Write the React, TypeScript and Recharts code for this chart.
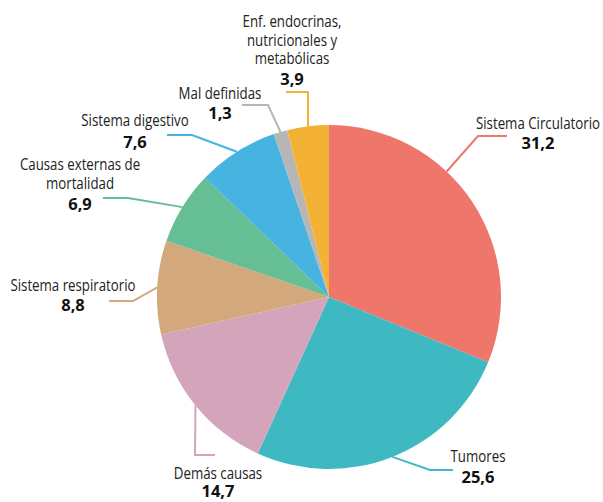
import { PieChart, Pie, Cell } from 'recharts'

const causes = [
  'Sistema Circulatorio',
  'Tumores',
  'Demás causas',
  'Sistema respiratorio',
  'Causas externas de mortalidad',
  'Sistema digestivo',
  'Mal definidas',
  'Enf. endocrinas, nutricionales y metabólicas',
]
const shares = [31.2, 25.6, 14.7, 8.8, 6.9, 7.6, 1.3, 3.9]
const labelLines = [
  ['Sistema Circulatorio'],
  ['Tumores'],
  ['Demás causas'],
  ['Sistema respiratorio'],
  ['Causas externas de', 'mortalidad'],
  ['Sistema digestivo'],
  ['Mal definidas'],
  ['Enf. endocrinas,', 'nutricionales y', 'metabólicas'],
]

const COLORS = ['#ee766a', '#3eb9c2', '#d4a5ba', '#d4a87d', '#66be95', '#46b3e0', '#b6b6b6', '#f3b235']

const data = causes.map((name, i) => ({ name, value: shares[i] }))

// leader line / text layout, offsets from the pie centre
const LAYOUT = [
  { shift: 13, elbow: [149, -161], endX: 178, tx: 209, ty: [-175], vy: -155 },
  { shift: 0, elbow: [101, 173], endX: 124, tx: 149, ty: [158], vy: 179 },
  { shift: 0, elbow: [-134, 158], endX: -114, tx: -111, ty: [175], vy: 193 },
  { shift: 0, elbow: [-196, 4], endX: -220, tx: -256, ty: [-13], vy: 7 },
  { shift: 0, elbow: [-201, -99], endX: -226, tx: -249, ty: [-134, -115], vy: -94 },
  { shift: 0, elbow: [-137, -162], endX: -162, tx: -194, ty: [-178], vy: -156 },
  { shift: 0, elbow: [-61, -192], endX: -87, tx: -109, ty: [-205], vy: -185 },
  { shift: 0, elbow: [-21, -205], endX: -43, tx: -37, ty: [-277, -258, -240], vy: -219 },
]

const RAD = Math.PI / 180
const FONT = "'Open Sans', 'Noto Sans', sans-serif"

const Narrow = ({ x, y, children, bold }: { x: number; y: number; children: any; bold?: boolean }) => (
  <g transform={`translate(${x},${y}) scale(${bold ? 1 : 0.83},1)`}>
    <text
      x={0}
      y={0}
      textAnchor="middle"
      dominantBaseline="central"
      fontFamily={FONT}
      fontSize={bold ? 16.5 : 16}
      fontWeight={bold ? 'bold' : 'normal'}
      fill={bold ? '#111' : '#222'}
    >
      {children}
    </text>
  </g>
)

const renderLabel = (props: any) => {
  const { cx, cy, midAngle, outerRadius, index, value } = props
  const l = LAYOUT[index]
  const a = (midAngle + l.shift) * RAD
  const x0 = cx + outerRadius * Math.cos(a)
  const y0 = cy - outerRadius * Math.sin(a)
  const ex = cx + l.elbow[0]
  const ey = cy + l.elbow[1]
  return (
    <g key={index}>
      <polyline
        points={`${x0},${y0} ${ex},${ey} ${cx + l.endX},${ey}`}
        fill="none"
        stroke={COLORS[index]}
        strokeWidth={2}
      />
      {labelLines[index].map((t, j) => (
        <Narrow key={j} x={cx + l.tx} y={cy + l.ty[j]}>
          {t}
        </Narrow>
      ))}
      <Narrow x={cx + l.tx} y={cy + l.vy} bold>
        {String(value).replace('.', ',')}
      </Narrow>
    </g>
  )
}

export default function App() {
  return (
    <div style={{ position: 'absolute', left: 0, top: 0, width: 603, height: 502, background: '#fff' }}>
      <PieChart width={603} height={502} margin={{ top: 0, right: 0, bottom: 0, left: 0 }}>
        <Pie
          data={data}
          dataKey="value"
          nameKey="name"
          cx={329}
          cy={297}
          outerRadius={172}
          startAngle={90}
          endAngle={-270}
          stroke="none"
          labelLine={false}
          label={renderLabel}
          isAnimationActive={false}
        >
          {data.map((_, i) => (
            <Cell key={i} fill={COLORS[i]} />
          ))}
        </Pie>
      </PieChart>
    </div>
  )
}
